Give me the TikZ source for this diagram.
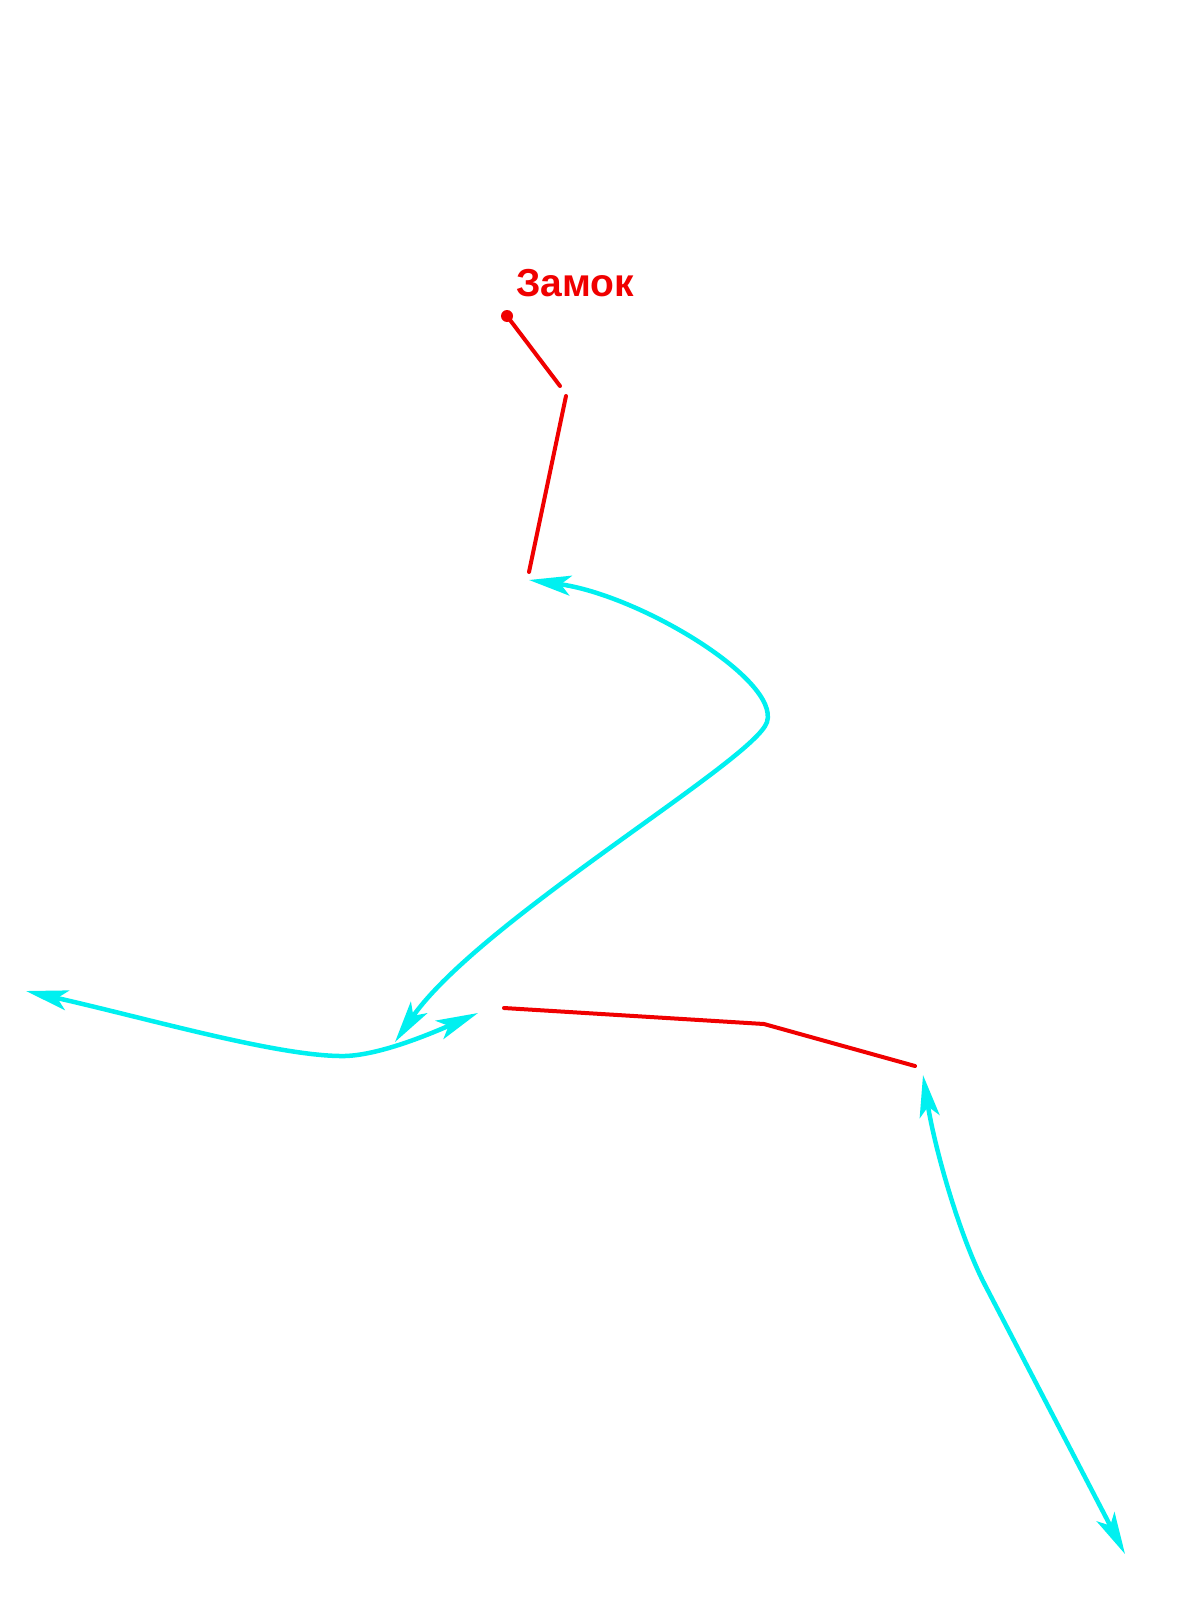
\documentclass[tikz,border=0pt]{standalone}
\usepackage{fontspec}
\setmainfont{Liberation Sans}
\usetikzlibrary{arrows.meta}
\definecolor{cy}{RGB}{0,240,240}
\definecolor{rd}{RGB}{240,0,0}
\tikzset{
  redline/.style={draw=rd, line width=4pt, line cap=round},
  cyarrow/.style={draw=cy, line width=4.5pt, {Stealth[length=42pt,width=20pt,inset=10pt,fill=cy]}-{Stealth[length=42pt,width=20pt,inset=10pt,fill=cy]}},
  lbl/.style={text=rd, font=\bfseries\fontsize{39}{44}\selectfont, inner sep=0pt}
}
\begin{document}
\begin{tikzpicture}[x=1pt,y=-1pt]
\useasboundingbox (0,0) rectangle (1200,1600);
\fill[white] (0,0) rectangle (1200,1600);
% label
\node[lbl] (lab) at (575,283) {Замок};
% red polyline
\coordinate (d0) at (507,316);
\coordinate (d1) at (560,386);
\coordinate (d2) at (566,396);
\coordinate (d3) at (529,572);
\fill[rd] (d0) circle (6pt);
\draw[redline] (d0) -- (d1);
\draw[redline] (d2) -- (d3);
\coordinate (e0) at (504,1008);
\coordinate (e1) at (764,1024);
\coordinate (e2) at (915,1066);
\draw[redline] (e0) -- (e1) -- (e2);
% cyan arrows
\coordinate (a0) at (529,580);
\coordinate (a1) at (767,722);
\coordinate (a2) at (395,1042);
\draw[cyarrow] (a0) .. controls (640,595) and (780,680) .. (a1)
               .. controls (755,760) and (480,920) .. (a2);
\coordinate (b0) at (26,991);
\coordinate (b1) at (345,1056);
\coordinate (b2) at (478,1013);
\draw[cyarrow] (b0) .. controls (150,1019) and (280,1057) .. (b1)
               .. controls (380,1055) and (430,1034) .. (b2);
\coordinate (c0) at (923,1075);
\coordinate (c1) at (985,1285);
\coordinate (c2) at (1125,1554);
\draw[cyarrow] (c0) .. controls (935,1150) and (960,1237) .. (c1) -- (c2);
\end{tikzpicture}
\end{document}
